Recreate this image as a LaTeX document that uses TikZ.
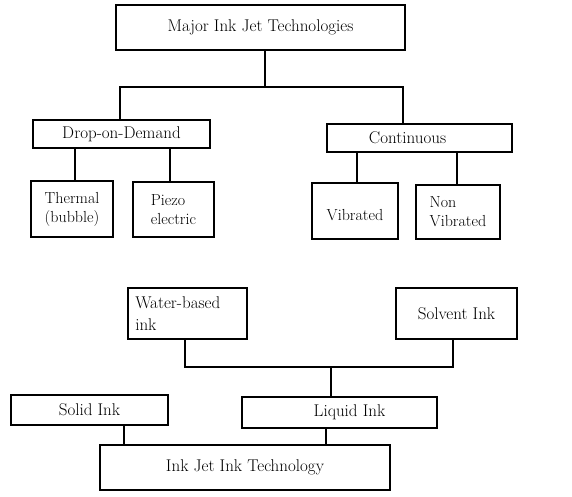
\documentclass[tikz,border=0pt]{standalone}
\begin{document}
\begin{tikzpicture}[x=1pt,y=-1pt,
  box/.style={draw,line width=1.6pt,inner sep=0pt,font=\fontsize{17}{19}\selectfont},
  wire/.style={line width=1.6pt}]
\useasboundingbox (0,0) rectangle (572,496);
% top tree
\node[box,minimum width=289,minimum height=45] (major) at (260.5,27.5) {Major Ink Jet Technologies};
\node[box,minimum width=177,minimum height=28] (dod) at (121.5,134) {Drop-on-Demand};
\node[box,minimum width=185,minimum height=28] (cont) at (419.5,138) {\hspace*{-24pt}Continuous};
\node[box,minimum width=82,minimum height=56,align=center,font=\fontsize{16}{19}\selectfont] (therm) at (72,209) {Thermal\\(bubble)};
\node[box,minimum width=81,minimum height=55,align=left,font=\fontsize{16}{19}\selectfont] (piezo) at (173.5,209.5) {Piezo\\electric};
\node[box,minimum width=86,minimum height=56,align=center,font=\fontsize{16}{19}\selectfont] (vib) at (355,211) {\mbox{}\\Vibrated};
\node[box,minimum width=84,minimum height=54,align=left,font=\fontsize{16}{19}\selectfont] (nonvib) at (458,212) {Non\\Vibrated};
\coordinate (j1) at (265,87);
\coordinate (a1) at (120,87);
\coordinate (a2) at (403,87);
\draw[wire] (j1 |- major.south) -- (j1);
\draw[wire] (dod.north -| a1) -- (a1) -- (a2) -- (cont.north -| a2);
\coordinate (d1) at (75,0);
\coordinate (d2) at (170,0);
\coordinate (c1) at (357,0);
\coordinate (c2) at (457,0);
\draw[wire] (dod.south -| d1) -- (therm.north -| d1);
\draw[wire] (dod.south -| d2) -- (piezo.north -| d2);
\draw[wire] (cont.south -| c1) -- (vib.north -| c1);
\draw[wire] (cont.south -| c2) -- (nonvib.north -| c2);
% bottom tree
\node[box,minimum width=119,minimum height=51,align=left,text width=104,anchor=north west] (water) at (127,287) {\vspace*{3pt}Water-based\\ink};
\node[box,minimum width=121,minimum height=51] (solv) at (456.5,313.5) {Solvent Ink};
\node[box,minimum width=157,minimum height=30] (solid) at (89.5,410) {Solid Ink};
\node[box,minimum width=195,minimum height=31] (liq) at (339.5,412.5) {\hspace*{20pt}Liquid Ink};
\node[box,minimum width=290,minimum height=45] (inkjet) at (245,467.5) {Ink Jet Ink Technology};
\coordinate (w1) at (185,367);
\coordinate (s1) at (453,367);
\coordinate (m1) at (331,367);
\draw[wire] (water.south -| w1) -- (w1) -- (s1) -- (solv.south -| s1);
\draw[wire] (m1) -- (liq.north -| m1);
\coordinate (b1) at (124,0);
\coordinate (b2) at (326,0);
\draw[wire] (solid.south -| b1) -- (inkjet.north -| b1);
\draw[wire] (liq.south -| b2) -- (inkjet.north -| b2);
\end{tikzpicture}
\end{document}
